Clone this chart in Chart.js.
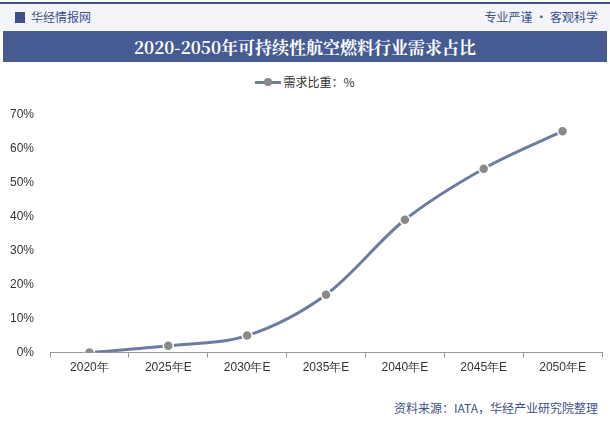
<!DOCTYPE html>
<html>
<head>
<meta charset="utf-8">
<script src="https://cdn.jsdelivr.net/npm/chart.js@4"></script>
<style>
  body { margin: 0; width: 610px; height: 424px; background: #fff; font-family: "Noto Sans CJK SC", sans-serif; position: relative; overflow: hidden; }
  .topline { position: absolute; left: 0; top: 2px; width: 610px; height: 2px; background: #3d5189; }
  .head { position: absolute; left: 0; top: 4px; width: 610px; height: 27px; background: #f4f5f9; }
  .logo { position: absolute; left: 15px; top: 8px; font-size: 12px; color: #3d5189; }
  .logo b { display: inline-block; width: 10px; height: 11px; background: #3d5189; margin-right: 6px; vertical-align: -1px; }
  .slogan { position: absolute; right: 12px; top: 8px; font-size: 12px; color: #3d5189; }
  .title { position: absolute; left: 3px; top: 31px; width: 604px; height: 31px; background: #455b91; color: #fff; font-size: 17px; font-weight: bold; text-align: center; line-height: 31px; font-family: "Noto Serif CJK SC", "Noto Sans CJK SC", serif; }
  .legend { position: absolute; left: 0; top: 73px; width: 610px; text-align: center; font-size: 12px; color: #333; }
  .legend i { display: inline-block; position: relative; width: 26px; height: 3px; background: #6d7ca0; vertical-align: 3px; margin-right: 2px; }
  .legend i:after { content: ''; position: absolute; left: 9px; top: -3px; width: 8px; height: 8px; border-radius: 50%; background: #8a8a8a; }
  .wrap { position: absolute; left: 0; top: 99px; width: 610px; height: 279px; }
  .source { position: absolute; right: 12px; bottom: 8px; font-size: 12px; color: #3d5189; }
</style>
</head>
<body>
<div class="topline"></div>
<div class="head"></div>
<div class="logo"><b></b>华经情报网</div>
<div class="slogan">专业严谨 • 客观科学</div>
<div class="title">2020-2050年可持续性航空燃料行业需求占比</div>
<div class="legend"><i></i>需求比重：%</div>
<div class="wrap"><canvas id="c"></canvas></div>
<div class="source">资料来源：IATA，华经产业研究院整理</div>
<script>
// 年份与需求占比数据
const years = ['2020年', '2025年E', '2030年E', '2035年E', '2040年E', '2045年E', '2050年E'];
const share = [0, 2, 5, 17, 39, 54, 65];
const yTicks = [0, 10, 20, 30, 40, 50, 60, 70];

new Chart(document.getElementById('c'), {
    type: 'line',
    data: {
        labels: years,
        datasets: [{
            label: '需求比重：%',
            data: share,
            borderColor: '#6d7ca0',
            pointBackgroundColor: '#8a8a8a',
            pointBorderColor: '#fff',
            pointBorderWidth: 1.5,
            pointRadius: 5,
            borderWidth: 3,
            cubicInterpolationMode: 'monotone'
        }]
    },
    options: {
        responsive: true,
        maintainAspectRatio: false,
        animation: false,
        layout: { padding: { left: 2, right: 8, top: 4 } },
        plugins: {
            legend: { display: false },
            tooltip: { enabled: false }
        },
        scales: {
            x: {
                offset: true,
                grid: { display: true, drawOnChartArea: false, color: '#999', tickLength: 5, offset: true },
                border: { color: '#999' },
                ticks: { color: '#333', font: { size: 12 } }
            },
            y: {
                min: 0,
                max: 70,
                afterBuildTicks: axis => { axis.ticks = yTicks.map(v => ({ value: v })); },
                grid: { display: false },
                border: { display: false },
                ticks: { color: '#333', font: { size: 12 }, padding: 8, callback: v => v + '%' }
            }
        }
    }
});
</script>
</body>
</html>
